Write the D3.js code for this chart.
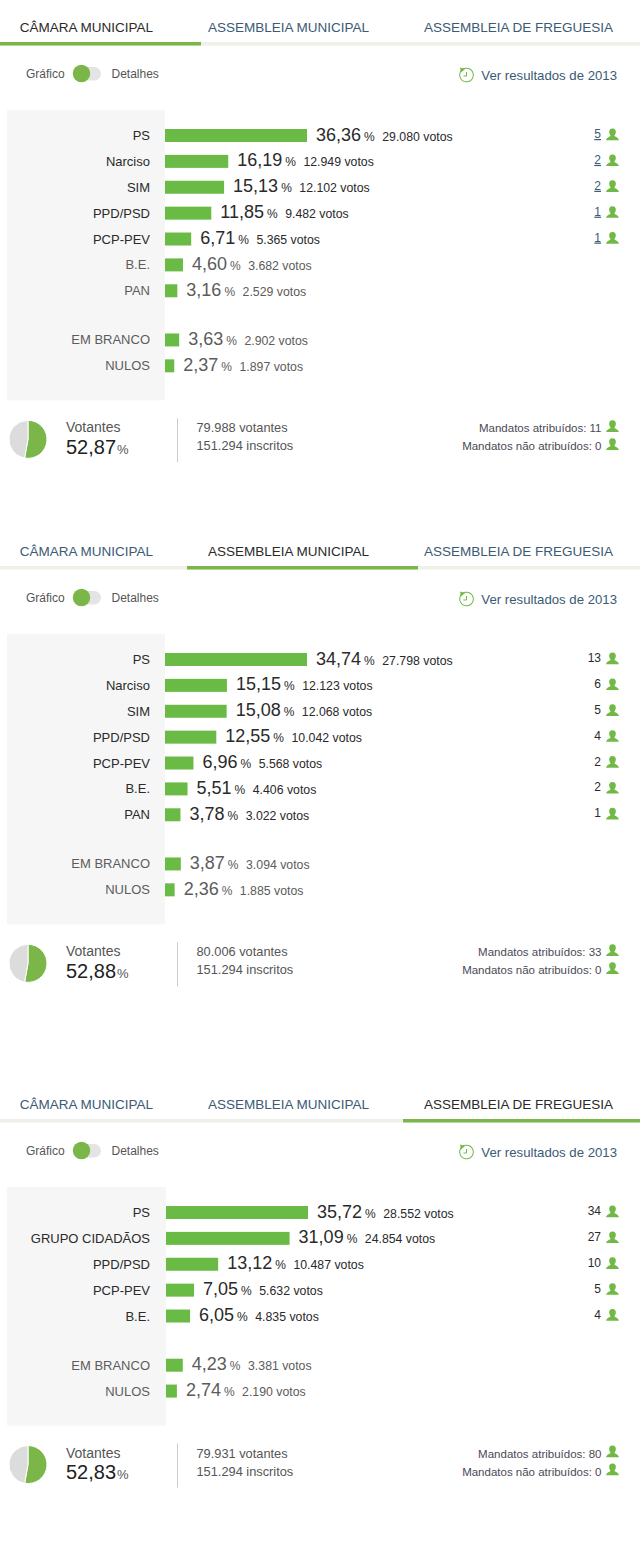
<!DOCTYPE html>
<html>
<head>
<meta charset="utf-8">
<script src="https://cdn.jsdelivr.net/npm/d3@7"></script>
<style>
	body { margin: 0; background: #fff; }
	svg { display: block; }
	text { font-family: "Liberation Sans", Arial, sans-serif; }
</style>
</head>
<body>
<div id="chartDiv"></div>
<script>
; (function () {

	var tabNames = ["CÂMARA MUNICIPAL", "ASSEMBLEIA MUNICIPAL", "ASSEMBLEIA DE FREGUESIA"];

	var camaraParties = ["PS", "Narciso", "SIM", "PPD/PSD", "PCP-PEV", "B.E.", "PAN"];
	var camaraPct = [36.36, 16.19, 15.13, 11.85, 6.71, 4.60, 3.16];
	var camaraVotes = [29080, 12949, 12102, 9482, 5365, 3682, 2529];
	var camaraSeats = [5, 2, 2, 1, 1, 0, 0];
	var camaraBlankPct = [3.63, 2.37];
	var camaraBlankVotes = [2902, 1897];

	var municipalParties = ["PS", "Narciso", "SIM", "PPD/PSD", "PCP-PEV", "B.E.", "PAN"];
	var municipalPct = [34.74, 15.15, 15.08, 12.55, 6.96, 5.51, 3.78];
	var municipalVotes = [27798, 12123, 12068, 10042, 5568, 4406, 3022];
	var municipalSeats = [13, 6, 5, 4, 2, 2, 1];
	var municipalBlankPct = [3.87, 2.36];
	var municipalBlankVotes = [3094, 1885];

	var freguesiaParties = ["PS", "GRUPO CIDADÃOS", "PPD/PSD", "PCP-PEV", "B.E."];
	var freguesiaPct = [35.72, 31.09, 13.12, 7.05, 6.05];
	var freguesiaVotes = [28552, 24854, 10487, 5632, 4835];
	var freguesiaSeats = [34, 27, 10, 5, 4];
	var freguesiaBlankPct = [4.23, 2.74];
	var freguesiaBlankVotes = [3381, 2190];

	var blankNames = ["EM BRANCO", "NULOS"];

	var turnoutPct = [52.87, 52.88, 52.83];
	var turnoutVoters = [79988, 80006, 79931];
	var registered = [151294, 151294, 151294];
	var seatsGiven = [11, 33, 80];
	var seatsNotGiven = [0, 0, 0];

	var green = "#6abb45";
	var knobGreen = "#7ab648";
	var iconGreen = "#70b944";
	var blue = "#3b5a75";
	var dark = "#2a2a2a";
	var dim = "#5c5c5c";

	var personPath = "M0,-6.5 C2.6,-6.5 3.6,-4.4 3.3,-2.4 C3.1,-1 2.4,0 1.9,0.8 C2,1.8 6.2,2.4 6.4,5.2 L-6.4,5.2 C-6.2,2.4 -2,1.8 -1.9,0.8 C-2.4,0 -3.1,-1 -3.3,-2.4 C-3.6,-4.4 -2.6,-6.5 0,-6.5 Z";

	var ptNumber = d3.formatLocale({ decimal: ",", thousands: ".", grouping: [3], currency: ["", ""] });
	var fmtPct = ptNumber.format(".2f");
	var fmtVotes = ptNumber.format(",d");

	var panels = [
		{ top: 0, tab: 0, tabLine: [0, 201], labelRight: 150, barLeft: 165, boxRight: 165, seatLinks: true,
			parties: camaraParties, pct: camaraPct, votes: camaraVotes, seats: camaraSeats,
			blankPct: camaraBlankPct, blankVotes: camaraBlankVotes },
		{ top: 524, tab: 1, tabLine: [187, 418], labelRight: 150, barLeft: 165, boxRight: 165, seatLinks: false,
			parties: municipalParties, pct: municipalPct, votes: municipalVotes, seats: municipalSeats,
			blankPct: municipalBlankPct, blankVotes: municipalBlankVotes },
		{ top: 1077, tab: 2, tabLine: [403, 640], labelRight: 150, barLeft: 166, boxRight: 166, seatLinks: false,
			parties: freguesiaParties, pct: freguesiaPct, votes: freguesiaVotes, seats: freguesiaSeats,
			blankPct: freguesiaBlankPct, blankVotes: freguesiaBlankVotes }
	];

	var tabCentre = [86.5, 288.5, 518.5];
	var barMaxWidth = 142;
	var barHeight = 13;
	var rowStep = 25.88;

	var chart = d3.select("#chartDiv").append("svg")
		.attr("width", 640)
		.attr("height", 1562);

	panels.forEach(function (panel, i) { drawPanel(panel, i); });

	function drawPanel(panel, i) {
		var g = chart.append("g")
			.attr("transform", "translate(0," + panel.top + ")");

		drawTabs(g, panel);
		drawToggle(g);
		drawHistoryLink(g);

		var rowCount = panel.parties.length;
		var rows = panel.parties.map(function (name, r) {
			return { name: name, pct: panel.pct[r], votes: panel.votes[r], seats: panel.seats[r], index: r, blank: false };
		}).concat(blankNames.map(function (name, r) {
			return { name: name, pct: panel.blankPct[r], votes: panel.blankVotes[r], seats: 0, index: rowCount + 0.9 + r, blank: true };
		}));

		var boxBottom = 135 + rowStep * (rowCount + 0.9 + 1) + 35;

		g.append("rect")
			.attr("x", 7)
			.attr("y", 110)
			.attr("width", panel.boxRight - 7)
			.attr("height", boxBottom - 110)
			.attr("fill", "#f6f6f6");

		var xScale = d3.scaleLinear()
			.domain([0, d3.max(panel.pct)])
			.range([panel.barLeft, panel.barLeft + barMaxWidth]);

		var yScale = d3.scaleLinear()
			.domain([0, 1])
			.range([135.5, 135.5 + rowStep]);

		var row = g.selectAll("g.row")
			.data(rows)
			.enter().append("g")
			.attr("class", "row")
			.attr("transform", function (d) { return "translate(0," + yScale(d.index) + ")"; });

		row.append("text")
			.attr("x", panel.labelRight)
			.attr("y", 4.5)
			.attr("text-anchor", "end")
			.style("font-size", "13px")
			.attr("fill", function (d) { return d.seats > 0 ? dark : dim; })
			.text(function (d) { return d.name; });

		row.append("rect")
			.attr("x", panel.barLeft)
			.attr("y", -barHeight / 2)
			.attr("width", function (d) { return xScale(d.pct) - panel.barLeft; })
			.attr("height", barHeight)
			.attr("fill", green);

		var value = row.append("text")
			.attr("x", function (d) { return xScale(d.pct) + 9; })
			.attr("y", 5)
			.attr("fill", function (d) { return d.seats > 0 ? dark : dim; });

		value.append("tspan")
			.style("font-size", "18px")
			.text(function (d) { return fmtPct(d.pct); });
		value.append("tspan")
			.attr("dx", 3)
			.style("font-size", "12px")
			.text("%");
		value.append("tspan")
			.attr("dx", 7.5)
			.style("font-size", "12.3px")
			.text(function (d) { return fmtVotes(d.votes) + " votos"; });

		var seated = row.filter(function (d) { return d.seats > 0; });

		seated.append("text")
			.attr("x", 601)
			.attr("y", 2.5)
			.attr("text-anchor", "end")
			.style("font-size", "12px")
			.style("text-decoration", panel.seatLinks ? "underline" : "none")
			.attr("fill", panel.seatLinks ? blue : dark)
			.text(function (d) { return d.seats; });

		seated.append("path")
			.attr("transform", "translate(612.5,-0.5)")
			.attr("d", personPath)
			.attr("fill", iconGreen);

		drawFooter(g, boxBottom, i);
	}

	function drawTabs(g, panel) {
		g.append("rect")
			.attr("x", 0)
			.attr("y", 42)
			.attr("width", 640)
			.attr("height", 3.5)
			.attr("fill", "#eef0e9");

		g.append("rect")
			.attr("x", panel.tabLine[0])
			.attr("y", 42)
			.attr("width", panel.tabLine[1] - panel.tabLine[0])
			.attr("height", 3.5)
			.attr("fill", knobGreen);

		g.selectAll("text.tab")
			.data(tabNames)
			.enter().append("text")
			.attr("class", "tab")
			.attr("x", function (d, t) { return tabCentre[t]; })
			.attr("y", 32)
			.attr("text-anchor", "middle")
			.style("font-size", "13.5px")
			.attr("fill", function (d, t) { return t === panel.tab ? dark : blue; })
			.text(function (d) { return d; });
	}

	function drawToggle(g) {
		g.append("text")
			.attr("x", 26)
			.attr("y", 78)
			.style("font-size", "12px")
			.attr("fill", "#555")
			.text("Gráfico");

		g.append("rect")
			.attr("x", 76)
			.attr("y", 67)
			.attr("width", 25)
			.attr("height", 13.5)
			.attr("rx", 6.75)
			.attr("fill", "#e4e4e4");

		g.append("circle")
			.attr("cx", 81.5)
			.attr("cy", 73.5)
			.attr("r", 8.7)
			.attr("fill", knobGreen);

		g.append("text")
			.attr("x", 111.5)
			.attr("y", 78)
			.style("font-size", "12px")
			.attr("fill", "#555")
			.text("Detalhes");
	}

	function drawHistoryLink(g) {
		var icon = g.append("g")
			.attr("transform", "translate(466.5,75)");

		icon.append("path")
			.attr("d", d3.arc()({ innerRadius: 6.3, outerRadius: 7.3, startAngle: -0.7, endAngle: 5.4 }))
			.attr("fill", iconGreen);
		icon.append("path")
			.attr("d", "M-6.5,-7.5 L-1.5,-6 L-5.5,-2.5 Z")
			.attr("fill", iconGreen);
		icon.append("path")
			.attr("d", "M0,-3 L0,1 L-3,1")
			.attr("fill", "none")
			.attr("stroke", iconGreen);

		g.append("text")
			.attr("x", 617)
			.attr("y", 79.5)
			.attr("text-anchor", "end")
			.style("font-size", "13.2px")
			.attr("fill", blue)
			.text("Ver resultados de 2013");
	}

	function drawFooter(g, boxBottom, i) {
		var foot = g.append("g")
			.attr("transform", "translate(0," + boxBottom + ")");

		var pie = d3.pie().sort(null);
		var arc = d3.arc().innerRadius(0).outerRadius(19);

		foot.append("g")
			.attr("transform", "translate(28,39)")
			.selectAll("path")
			.data(pie([turnoutPct[i], 100 - turnoutPct[i]]))
			.enter().append("path")
			.attr("d", arc)
			.attr("fill", function (d, s) { return s === 0 ? knobGreen : "#dcdcdc"; })
			.attr("stroke", "#fff")
			.attr("stroke-width", 1);

		foot.append("text")
			.attr("x", 66)
			.attr("y", 32)
			.style("font-size", "14px")
			.attr("fill", "#555")
			.text("Votantes");

		var turnout = foot.append("text")
			.attr("x", 66)
			.attr("y", 53.5)
			.attr("fill", "#222");
		turnout.append("tspan")
			.style("font-size", "20px")
			.text(fmtPct(turnoutPct[i]));
		turnout.append("tspan")
			.attr("dx", 1)
			.attr("fill", "#555")
			.style("font-size", "13px")
			.text("%");

		foot.append("line")
			.attr("x1", 177.5)
			.attr("x2", 177.5)
			.attr("y1", 18)
			.attr("y2", 62)
			.attr("stroke", "#ccc");

		foot.append("text")
			.attr("x", 196.5)
			.attr("y", 32)
			.style("font-size", "12.8px")
			.attr("fill", "#555")
			.text(fmtVotes(turnoutVoters[i]) + " votantes");

		foot.append("text")
			.attr("x", 196.5)
			.attr("y", 50)
			.style("font-size", "12.8px")
			.attr("fill", "#555")
			.text(fmtVotes(registered[i]) + " inscritos");

		var seatLines = [
			"Mandatos atribuídos: " + seatsGiven[i],
			"Mandatos não atribuídos: " + seatsNotGiven[i]
		];

		seatLines.forEach(function (line, l) {
			foot.append("text")
				.attr("x", 601.5)
				.attr("y", 32 + l * 18)
				.attr("text-anchor", "end")
				.style("font-size", "11.5px")
				.attr("fill", "#4a4a55")
				.text(line);
			foot.append("path")
				.attr("transform", "translate(612.5," + (26.5 + l * 18) + ")")
				.attr("d", personPath)
				.attr("fill", iconGreen);
		});
	}

})();
</script>
</body>
</html>
